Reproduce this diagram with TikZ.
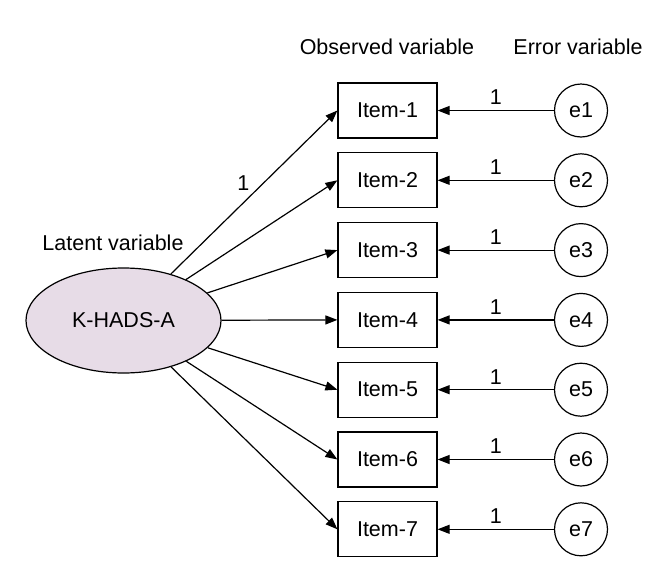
\documentclass[tikz,border=0pt]{standalone}
\usepackage{fontspec}
\setmainfont{Liberation Sans}
\usetikzlibrary{arrows.meta,shapes.geometric}
\definecolor{latfill}{RGB}{231,220,231}
\begin{document}
\begin{tikzpicture}[x=1pt,y=-1pt,
  every node/.style={font=\fontsize{21.5}{24}\selectfont},
  itembox/.style={draw,line width=1.2pt,minimum width=99pt,minimum height=55pt,inner sep=0pt},
  errc/.style={draw,circle,line width=1.2pt,minimum size=53pt,inner sep=0pt},
  latent/.style={draw,ellipse,line width=1.2pt,fill=latfill,minimum width=195pt,minimum height=105pt,inner sep=0pt},
  conn/.style={line width=1.2pt,-{Triangle[length=12pt,width=9pt]}},
  lbl/.style={inner sep=0pt}]
\useasboundingbox (0,0) rectangle (670,579);
\node[latent] (lat) at (123.5,320.5) {K-HADS-A};
\node (latlbl) at (113,243) {Latent variable};
\node (obslbl) at (387,47) {Observed variable};
\node (errlbl) at (578,47) {Error variable};
\foreach \i in {1,...,7}{
  \node[itembox] (it\i) at (387.5,{110.5+69.8*(\i-1)}) {Item-\i};
  \node[errc] (e\i) at (581,{110.5+69.8*(\i-1)}) {e\i};
  \draw[conn] (e\i) -- node[lbl,above=5pt] {1} (it\i);
}
\draw[conn] (lat) -- node[lbl,pos=0.435,yshift=20pt] {1} (it1.west);
\foreach \i in {2,...,7}{
  \draw[conn] (lat) -- (it\i.west);
}
\end{tikzpicture}
\end{document}
